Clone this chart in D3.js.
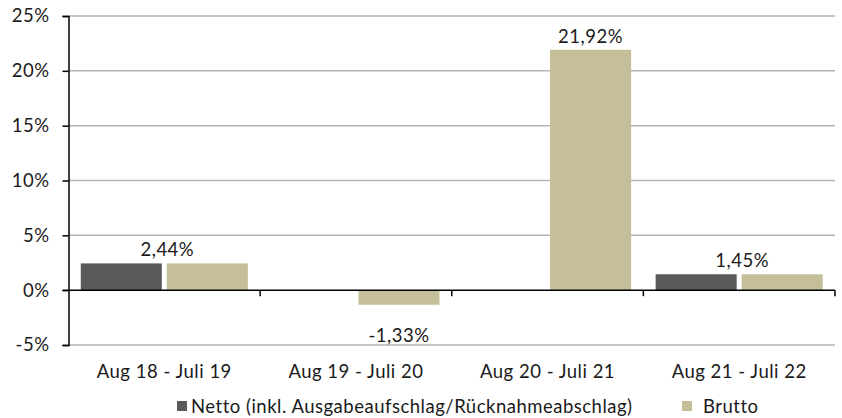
<!DOCTYPE html>
<html>
<head>
<meta charset="utf-8">
<script src="https://cdn.jsdelivr.net/npm/d3@7"></script>
<style>
  body { margin: 0; background: #fff; }
  svg text { font-family: Lato, "Open Sans", sans-serif; fill: #1a1a1a; letter-spacing: 0.5px; }
</style>
</head>
<body>
<svg id="chart"></svg>
<script>
// data
var categories = ["Aug 18 - Juli 19", "Aug 19 - Juli 20", "Aug 20 - Juli 21", "Aug 21 - Juli 22"];
var netto = [2.44, null, null, 1.45];
var brutto = [2.44, -1.33, 21.92, 1.45];
var valueLabels = ["2,44%", "-1,33%", "21,92%", "1,45%"];
var yTicks = [-5, 0, 5, 10, 15, 20, 25];
var seriesNames = ["Netto (inkl. Ausgabeaufschlag/Rücknahmeabschlag)", "Brutto"];

var NettoColor = "#5a5a5a", BruttoColor = "#c5bf99", GridColor = "#b3b3b3";
var width = 842, height = 418;
var margin = {left: 68.5, right: 7, top: 16, bottom: 73};
var fontSize = 18.5;

var svg = d3.select("#chart").attr("width", width).attr("height", height);

var x = d3.scaleBand().domain(categories)
    .range([margin.left, width - margin.right]);
var y = d3.scaleLinear().domain([-5, 25])
    .range([height - margin.bottom, margin.top]);

var bw = x.bandwidth();
var outerPad = bw * 0.064, innerGap = 5;
var barW = (bw - outerPad * 2 - innerGap) / 2;

// gridlines
svg.append("g").selectAll("line").data(yTicks.filter(function(d){ return d !== 0; }))
  .enter().append("line")
    .attr("x1", margin.left).attr("x2", width - margin.right)
    .attr("y1", function(d){ return y(d); }).attr("y2", function(d){ return y(d); })
    .attr("stroke", GridColor).attr("stroke-width", 1.5);

// bars
var rows = categories.map(function(c, i){ return {cat: c, n: netto[i], b: brutto[i], label: valueLabels[i]}; });

function barRect(v){
  return {y: y(Math.max(0, v)), h: Math.abs(y(v) - y(0))};
}

svg.append("g").selectAll("rect").data(rows.filter(function(d){ return d.n !== null; }))
  .enter().append("rect")
    .attr("x", function(d){ return x(d.cat) + outerPad; })
    .attr("y", function(d){ return barRect(d.n).y; })
    .attr("width", barW)
    .attr("height", function(d){ return barRect(d.n).h; })
    .attr("fill", NettoColor);

svg.append("g").selectAll("rect").data(rows)
  .enter().append("rect")
    .attr("x", function(d){ return x(d.cat) + outerPad + barW + innerGap; })
    .attr("y", function(d){ return barRect(d.b).y; })
    .attr("width", barW)
    .attr("height", function(d){ return barRect(d.b).h; })
    .attr("fill", BruttoColor);

// value labels
svg.append("g").selectAll("text").data(rows)
  .enter().append("text")
    .attr("x", function(d){
      var bx = x(d.cat) + outerPad + barW + innerGap + barW / 2;
      return d.n !== null ? x(d.cat) + bw / 2 + 3 : bx;
    })
    .attr("y", function(d){ return d.b >= 0 ? y(d.b) - 7 : y(d.b) + 37; })
    .attr("text-anchor", "middle")
    .style("font-size", fontSize + "px")
    .text(function(d){ return d.label; });

// y axis
var yAxis = d3.axisLeft(y).tickValues(yTicks).tickSize(6).tickPadding(13)
    .tickFormat(function(d){ return d + "%"; });
var gy = svg.append("g").attr("transform", "translate(" + margin.left + ",0)").call(yAxis);
gy.select(".domain").attr("stroke", "#000").attr("stroke-width", 1.5);
gy.selectAll(".tick line").attr("stroke", "#000").attr("stroke-width", 1.5);
gy.selectAll(".tick text").style("font-size", fontSize + "px").attr("fill", "#1a1a1a")
  .style("font-family", "Lato, sans-serif");

// zero line with category ticks
svg.append("line")
    .attr("x1", margin.left - 6).attr("x2", width - margin.right)
    .attr("y1", y(0)).attr("y2", y(0))
    .attr("stroke", "#000").attr("stroke-width", 1.5);
var bounds = categories.map(function(c){ return x(c) + bw; });
svg.append("g").selectAll("line").data(bounds)
  .enter().append("line")
    .attr("x1", function(d){ return d; }).attr("x2", function(d){ return d; })
    .attr("y1", y(0)).attr("y2", y(0) + 6)
    .attr("stroke", "#000").attr("stroke-width", 1.5);

// category labels
svg.append("g").selectAll("text").data(categories)
  .enter().append("text")
    .attr("x", function(d){ return x(d) + bw / 2; })
    .attr("y", 378)
    .attr("text-anchor", "middle")
    .style("font-size", fontSize + "px")
    .text(function(d){ return d; });

// legend
var legendX = [177, 682];
var legendTextX = [14, 21];
var legendColors = [NettoColor, BruttoColor];
var lg = svg.append("g").selectAll("g").data(seriesNames)
  .enter().append("g")
    .attr("transform", function(d, i){ return "translate(" + legendX[i] + ",401)"; });
lg.append("rect").attr("width", 10).attr("height", 10)
  .attr("fill", function(d, i){ return legendColors[i]; });
lg.append("text").attr("x", function(d, i){ return legendTextX[i]; }).attr("y", 11.5)
  .style("font-size", fontSize + "px")
  .text(function(d){ return d; });
</script>
</body>
</html>
